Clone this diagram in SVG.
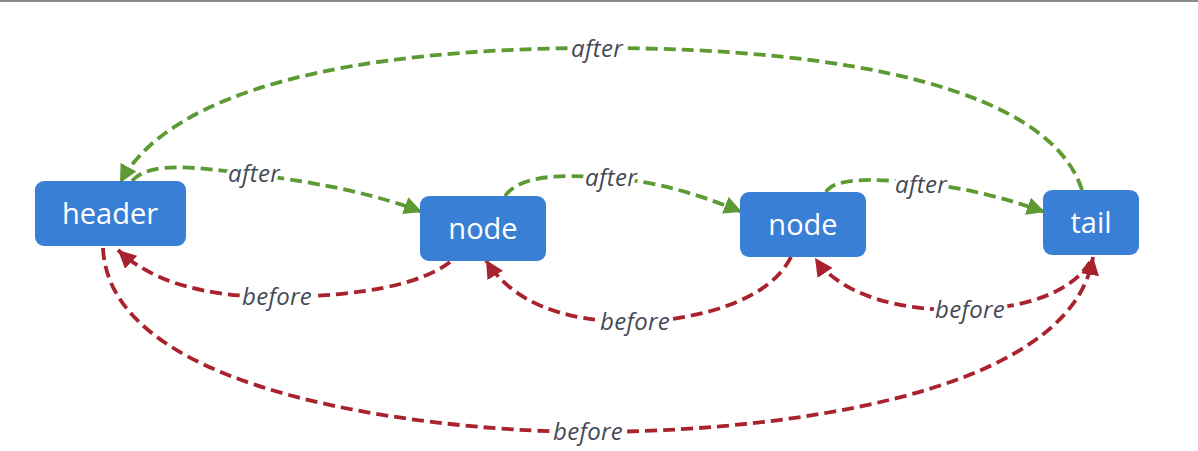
<svg xmlns="http://www.w3.org/2000/svg" width="1198" height="451" viewBox="0 0 1198 451">
<style>
.box{fill:#3a7fd6;}
.nt{font-family:"Open Sans","Noto Sans",sans-serif;font-size:29px;fill:#ffffff;text-anchor:middle;}
.g{fill:none;stroke:#5d9a34;stroke-width:3.8;stroke-dasharray:12 6;}
.r{fill:none;stroke:#a8232e;stroke-width:3.8;stroke-dasharray:12 6;}
.lb{font-family:"Open Sans","Noto Sans",sans-serif;font-style:italic;font-size:24px;letter-spacing:0.3px;fill:#444a55;text-anchor:middle;stroke:#ffffff;stroke-width:7;paint-order:stroke;stroke-linejoin:round;}
</style>
<defs>
<marker id="ag" markerUnits="userSpaceOnUse" markerWidth="20" markerHeight="18" refX="18" refY="9" orient="auto">
<path d="M0,0 L18,9 L0,18 Z" fill="#5d9a34"/>
</marker>
<marker id="ar" markerUnits="userSpaceOnUse" markerWidth="20" markerHeight="18" refX="18" refY="9" orient="auto">
<path d="M0,0 L18,9 L0,18 Z" fill="#a8232e"/>
</marker>
</defs>
<rect x="0" y="0" width="1198" height="451" fill="#ffffff"/>
<rect x="0" y="0" width="1198" height="2" fill="#8a8a8a"/>
<g id="connectors">
<path class="g" d="M1082,190 C1050,90 850,48 600,48 C350,48 170,90 120,183" marker-end="url(#ag)"/>
<path class="g" d="M132,181 C150,160 200,168 250,174 C330,184 380,196 422,212" marker-end="url(#ag)"/>
<path class="g" d="M505,196 C520,175 560,174 610,178 C660,182 700,195 742,212" marker-end="url(#ag)"/>
<path class="g" d="M826,192 C835,178 870,178 920,183 C970,188 1010,200 1045,212" marker-end="url(#ag)"/>
<path class="r" d="M450,262 C420,285 360,296 278,297 C200,297 150,280 118,250" marker-end="url(#ar)"/>
<path class="r" d="M791,257 C770,300 700,320 635,322 C560,322 510,300 486,260" marker-end="url(#ar)"/>
<path class="r" d="M1090,262 C1070,295 1020,308 970,310 C900,312 840,295 815,258" marker-end="url(#ar)"/>
<path class="r" d="M103,248 C110,400 450,432 590,432 C760,432 1070,400 1093,257" marker-end="url(#ar)"/>
<text class="lb" x="597" y="57">after</text>
<text class="lb" x="254" y="182">after</text>
<text class="lb" x="611" y="186">after</text>
<text class="lb" x="921" y="193">after</text>
<text class="lb" x="277" y="305">before</text>
<text class="lb" x="635" y="330">before</text>
<text class="lb" x="970" y="318">before</text>
<text class="lb" x="588" y="440">before</text>
</g>
<g id="header"><rect class="box" x="35" y="181" width="151" height="65" rx="9"/><text class="nt" x="110" y="224">header</text></g>
<g id="node1"><rect class="box" x="420" y="196" width="126" height="65" rx="9"/><text class="nt" x="483" y="239">node</text></g>
<g id="node2"><rect class="box" x="740" y="192" width="126" height="65" rx="9"/><text class="nt" x="803" y="235">node</text></g>
<g id="tail"><rect class="box" x="1043" y="190" width="96" height="65" rx="9"/><text class="nt" x="1091" y="233">tail</text></g>
</svg>
